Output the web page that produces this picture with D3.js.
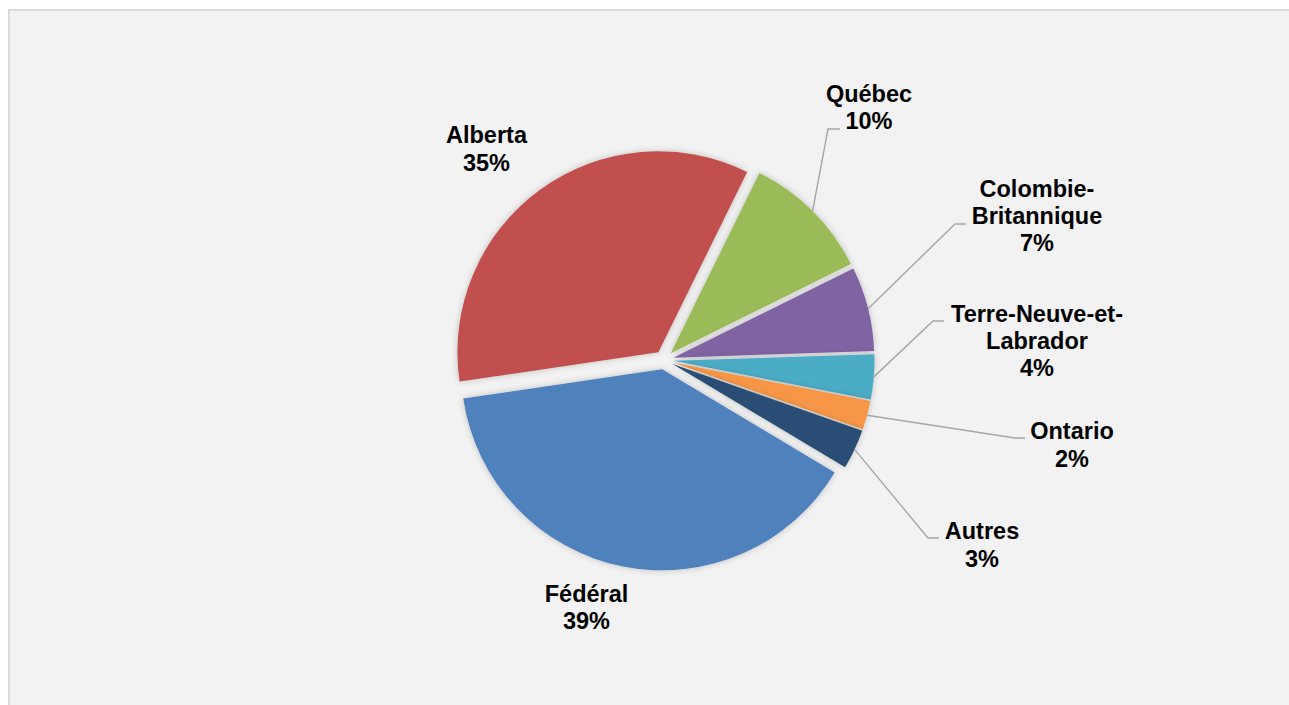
<!DOCTYPE html>
<html>
<head>
<meta charset="utf-8">
<script src="https://cdn.jsdelivr.net/npm/d3@7"></script>
<style>
  html, body { margin: 0; padding: 0; background: #ffffff; }
  svg { display: block; }
  text { font-family: Arial, "Liberation Sans", sans-serif; font-weight: bold; fill: #000; }
</style>
</head>
<body>
<svg id="chart" width="1289" height="705"></svg>
<script>
// ---- data ----
const categories = ["Québec", "Colombie-Britannique", "Terre-Neuve-et-Labrador", "Ontario", "Autres", "Fédéral", "Alberta"];
const values = [10.4, 6.8, 3.6, 2.3, 3.2, 39.1, 34.6];
const labelNames = [["Québec"], ["Colombie-", "Britannique"], ["Terre-Neuve-et-", "Labrador"], ["Ontario"], ["Autres"], ["Fédéral"], ["Alberta"]];
const colors = ["#9BBB59", "#8064A2", "#4BACC6", "#F79646", "#2C4D75", "#4F81BD", "#C0504D"];

// ---- layout (label placement, not data) ----
const labelLayout = [
  { x: 869,  y: 102,   leader: [[828, 129], [840, 129]] },
  { x: 1037, y: 196.5, leader: [[955, 224], [966, 224]] },
  { x: 1037, y: 321.5, leader: [[933, 321], [944, 321]] },
  { x: 1072, y: 439.3, leader: [[1015, 438], [1025, 438]] },
  { x: 982,  y: 539.3, leader: [[928, 538], [939, 538]] },
  { x: 586.5,y: 601.5, leader: null },
  { x: 486.5,y: 143.3, leader: null }
];

const W = 1289, H = 705;
const cx = 664, cy = 360, R = 201, explode = 9.5;
const lineH = 27.4;
const startDeg = 26.2;

const svg = d3.select("#chart");
const defs = svg.append("defs");
const f = defs.append("filter").attr("id", "shadow").attr("x", "-20%").attr("y", "-20%").attr("width", "140%").attr("height", "140%");
f.append("feDropShadow").attr("dx", 0).attr("dy", 0).attr("stdDeviation", 3)
  .attr("flood-color", "#000").attr("flood-opacity", 0.22);

// background panel
svg.append("rect").attr("x", 0).attr("y", 0).attr("width", W).attr("height", H).attr("fill", "#ffffff");
svg.append("rect").attr("x", 9).attr("y", 10).attr("width", W + 10).attr("height", H + 10)
  .attr("fill", "#f2f2f2").attr("stroke", "#d9d9d9").attr("stroke-width", 2);

const total = d3.sum(values);
const pct = d3.format(".0%");
const toRad = d => d * Math.PI / 180;

const pie = d3.pie().sort(null).value(d => d)
  .startAngle(toRad(startDeg)).endAngle(toRad(startDeg) + 2 * Math.PI);
const arcs = pie(values);
const arc = d3.arc().innerRadius(0).outerRadius(R);

const g = svg.append("g").attr("transform", `translate(${cx},${cy})`);

function offset(d) {
  const m = (d.startAngle + d.endAngle) / 2;
  return [explode * Math.sin(m), -explode * Math.cos(m)];
}

g.selectAll("path.slice").data(arcs).enter().append("path")
  .attr("class", "slice")
  .attr("d", arc)
  .attr("fill", (d, i) => colors[i])
  .attr("filter", "url(#shadow)")
  .attr("transform", d => { const o = offset(d); return `translate(${o[0]},${o[1]})`; });

// leader lines
arcs.forEach((d, i) => {
  const L = labelLayout[i];
  if (!L.leader) return;
  const m = (d.startAngle + d.endAngle) / 2;
  const rr = R + explode;
  const p0 = [cx + rr * Math.sin(m), cy - rr * Math.cos(m)];
  const pts = [p0].concat(L.leader);
  svg.append("path")
    .attr("d", d3.line()(pts))
    .attr("fill", "none")
    .attr("stroke", "#a6a6a6")
    .attr("stroke-width", 1.4);
});

// labels
arcs.forEach((d, i) => {
  const L = labelLayout[i];
  const lines = labelNames[i].concat([pct(values[i] / total)]);
  const t = svg.append("text").attr("text-anchor", "middle").attr("font-size", "23.5px");
  lines.forEach((s, k) => {
    t.append("tspan").attr("x", L.x).attr("y", L.y + k * lineH).text(s);
  });
});
</script>
</body>
</html>
